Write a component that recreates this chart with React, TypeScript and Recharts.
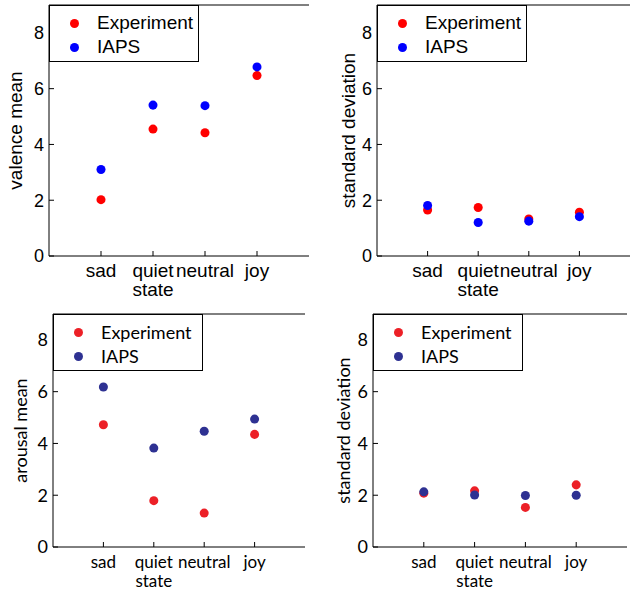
import React from 'react';
import {
  ScatterChart,
  Scatter,
  XAxis,
  YAxis,
  ZAxis,
  Legend,
  ReferenceLine,
} from 'recharts';

const categories = ['sad', 'quiet state', 'neutral', 'joy'];
const categoryPositions = [1, 2, 3, 4];
const yTicks = [0, 2, 4, 6, 8];

const valenceExperiment = [2.02, 4.55, 4.42, 6.47];
const valenceIaps = [3.1, 5.41, 5.39, 6.78];
const valenceSdExperiment = [1.65, 1.74, 1.33, 1.57];
const valenceSdIaps = [1.81, 1.2, 1.25, 1.41];
const arousalExperiment = [4.72, 1.79, 1.31, 4.35];
const arousalIaps = [6.18, 3.82, 4.47, 4.94];
const arousalSdExperiment = [2.08, 2.17, 1.53, 2.4];
const arousalSdIaps = [2.13, 2.01, 1.99, 2.0];

const toPoints = (values: number[]) =>
  values.map((v, i) => ({ x: categoryPositions[i], y: v }));

interface Box {
  x: number;
  y: number;
  w: number;
  h: number;
}

interface PanelProps {
  box: Box; // container in page coords
  plot: { left: number; right: number; top: number; bottom: number };
  yLabel: string;
  yLabelX: number;
  experiment: number[];
  iaps: number[];
  colors: [string, string];
  font: string;
  fontSize: number;
  tickFontSize: number;
  categoryFontSize: number;
}

const CategoryTick = (props: any) => {
  const { x, y, payload, font, fontSize } = props;
  const label = categories[payload.value - 1] || '';
  const lines = label.split(' ');
  return (
    <text x={x} y={y} textAnchor="middle" fill="#000" fontFamily={font} fontSize={fontSize}>
      {lines.map((l, i) => (
        <tspan key={i} x={x} dy={i === 0 ? 14 : 19}>
          {l}
        </tspan>
      ))}
    </text>
  );
};

const LegendBox = (props: any) => {
  const { payload, font, fontSize } = props;
  return (
    <div
      style={{
        width: 148,
        height: 50,
        border: '1px solid #000',
        background: '#fff',
        fontFamily: font,
        fontSize,
        color: '#000',
        paddingTop: 5,
        boxSizing: 'content-box',
      }}
    >
      {(payload || []).map((entry: any) => (
        <div key={entry.value} style={{ display: 'flex', alignItems: 'center', height: 24 }}>
          <span
            style={{
              display: 'inline-block',
              width: 9,
              height: 9,
              borderRadius: '50%',
              background: entry.color,
              marginLeft: 20,
              marginRight: 18,
            }}
          />
          <span>{entry.value}</span>
        </div>
      ))}
    </div>
  );
};

const Panel: React.FC<PanelProps> = ({
  box,
  plot,
  yLabel,
  yLabelX,
  experiment,
  iaps,
  colors,
  font,
  fontSize,
  tickFontSize,
  categoryFontSize,
}) => {
  const yAxisWidth = plot.left - box.x;
  const xAxisHeight = box.y + box.h - plot.bottom;
  const margin = { top: plot.top - box.y, right: box.x + box.w - plot.right, bottom: 0, left: 0 };
  const tickStyle = { fontSize: tickFontSize, fill: '#000', fontFamily: font };

  return (
    <div style={{ position: 'absolute', left: box.x, top: box.y }}>
      <ScatterChart width={box.w} height={box.h} margin={margin}>
        <XAxis
          type="number"
          dataKey="x"
          domain={[0, 5]}
          ticks={categoryPositions}
          allowDecimals={false}
          height={xAxisHeight}
          stroke="#000"
          tickSize={-5}
          tickMargin={12}
          interval={0}
          tick={<CategoryTick font={font} fontSize={categoryFontSize} />}
        />
        <YAxis
          yAxisId="l"
          type="number"
          dataKey="y"
          domain={[0, 9]}
          ticks={yTicks}
          width={yAxisWidth}
          stroke="#000"
          tickSize={-5}
          tickMargin={10}
          tick={tickStyle}
          label={{
            content: (p: any) => {
              const vb = p.viewBox || {};
              const cy = vb.y + vb.height / 2;
              const lx = yLabelX - box.x;
              return (
                <text
                  x={lx}
                  y={cy}
                  transform={`rotate(-90, ${lx}, ${cy})`}
                  textAnchor="middle"
                  dominantBaseline="central"
                  fontFamily={font}
                  fontSize={fontSize}
                  fill="#000"
                >
                  {yLabel}
                </text>
              );
            },
          }}
        />
        <YAxis
          yAxisId="r"
          orientation="right"
          type="number"
          domain={[0, 9]}
          ticks={yTicks}
          width={0}
          stroke="#000"
          tickSize={-5}
          tickFormatter={() => ''}
        />
        <ZAxis range={[70, 70]} />
        <ReferenceLine y={9} yAxisId="l" stroke="#000" />
        <Legend
          layout="vertical"
          align="center"
          verticalAlign="middle"
          wrapperStyle={{ left: plot.left - box.x, top: plot.top - box.y, width: 150, height: 56 }}
          content={<LegendBox font={font} fontSize={fontSize} />}
        />
        <Scatter
          name="Experiment"
          yAxisId="l"
          data={toPoints(experiment)}
          fill={colors[0]}
          shape="circle"
          isAnimationActive={false}
        />
        <Scatter
          name="IAPS"
          yAxisId="l"
          data={toPoints(iaps)}
          fill={colors[1]}
          shape="circle"
          isAnimationActive={false}
        />
      </ScatterChart>
    </div>
  );
};

const TOP_FONT = '"Liberation Sans", Arial, sans-serif';
const BOTTOM_FONT = 'Lato, "Liberation Sans", sans-serif';

export default function App() {
  return (
    <div style={{ position: 'absolute', left: 0, top: 0, width: 635, height: 592, background: '#fff' }}>
      <Panel
        box={{ x: 0, y: 0, w: 317, h: 300 }}
        plot={{ left: 49, right: 309, top: 5, bottom: 256 }}
        yLabel="valence mean"
        yLabelX={15}
        experiment={valenceExperiment}
        iaps={valenceIaps}
        colors={['#ff0000', '#0000ff']}
        font={TOP_FONT}
        fontSize={19}
        tickFontSize={18}
        categoryFontSize={19}
      />
      <Panel
        box={{ x: 317, y: 0, w: 318, h: 300 }}
        plot={{ left: 377, right: 630, top: 5, bottom: 256 }}
        yLabel="standard deviation"
        yLabelX={348}
        experiment={valenceSdExperiment}
        iaps={valenceSdIaps}
        colors={['#ff0000', '#0000ff']}
        font={TOP_FONT}
        fontSize={19}
        tickFontSize={18}
        categoryFontSize={19}
      />
      <Panel
        box={{ x: 0, y: 300, w: 317, h: 292 }}
        plot={{ left: 53, right: 305, top: 314, bottom: 547 }}
        yLabel="arousal mean"
        yLabelX={20}
        experiment={arousalExperiment}
        iaps={arousalIaps}
        colors={['#ec2027', '#2e3192']}
        font={BOTTOM_FONT}
        fontSize={18}
        tickFontSize={18}
        categoryFontSize={17}
      />
      <Panel
        box={{ x: 317, y: 300, w: 318, h: 292 }}
        plot={{ left: 373, right: 627, top: 314, bottom: 547 }}
        yLabel="standard deviation"
        yLabelX={343}
        experiment={arousalSdExperiment}
        iaps={arousalSdIaps}
        colors={['#ec2027', '#2e3192']}
        font={BOTTOM_FONT}
        fontSize={18}
        tickFontSize={18}
        categoryFontSize={17}
      />
    </div>
  );
}
